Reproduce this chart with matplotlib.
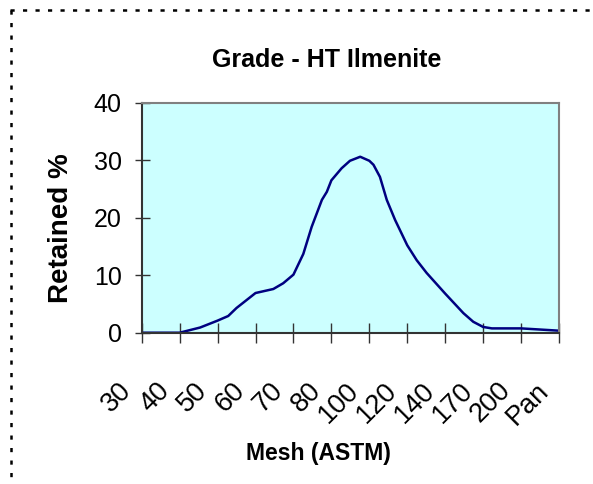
import matplotlib
matplotlib.use("Agg")
import matplotlib.pyplot as plt
import matplotlib.transforms as mtransforms
from matplotlib.lines import Line2D

plt.rcParams['font.family'] = ['Liberation Sans', 'DejaVu Sans']
plt.rcParams['lines.scale_dashes'] = False

# ---- data ----
mesh_labels = ['30', '40', '50', '60', '70', '80', '100', '120', '140', '170', '200', 'Pan']
# curve sample positions along the mesh axis (0 = first sieve, 11 = Pan)
curve_position = [0, 1, 1.54, 2.0, 2.28, 2.5, 3.0, 3.47, 3.73, 4.0, 4.26, 4.48, 4.75, 4.88,
                  5.0, 5.27, 5.49, 5.76, 6.0, 6.11, 6.28, 6.46, 6.68, 7.0, 7.25, 7.51,
                  8.0, 8.48, 8.74, 9.0, 9.23, 10.0, 11.0]
retained_pct = [0, 0, 0.9, 2.1, 2.9, 4.3, 6.9, 7.6, 8.6, 10.1, 13.7, 18.4, 23.1, 24.5,
                26.5, 28.6, 29.9, 30.6, 29.9, 29.2, 27.1, 23.1, 19.6, 15.2, 12.6, 10.4,
                6.8, 3.4, 1.9, 1.0, 0.75, 0.75, 0.35]
y_ticks = [0, 10, 20, 30, 40]

W, H = 593, 484
fig = plt.figure(figsize=(W / 100, H / 100), dpi=100)
ax = fig.add_axes([141.7 / W, 1 - 332.7 / H, (559 - 141.7) / W, (332.7 - 102.7) / H])
ax.set_facecolor('#CCFFFF')

ax.plot(curve_position, retained_pct, color='#000080', lw=1.8, solid_joinstyle='round')

ax.set_xlim(0, len(mesh_labels) - 1)
ax.set_ylim(0, 40)
ax.set_yticks(y_ticks)
ax.set_yticklabels([str(v) for v in y_ticks])
ax.set_xticks(range(len(mesh_labels)))
ax.set_xticklabels(mesh_labels)

for s in ['top', 'right']:
    ax.spines[s].set_color('#808080')
    ax.spines[s].set_linewidth(1.5)
for s in ['left', 'bottom']:
    ax.spines[s].set_color('#333333')
    ax.spines[s].set_linewidth(1.5)

ax.tick_params(axis='y', direction='inout', length=10.8, width=1, color='#333333',
               labelsize=18, pad=9)
ax.tick_params(axis='x', direction='inout', length=14.4, width=1, color='#333333',
               labelsize=19.5, pad=25)
offset = mtransforms.ScaledTranslation(-5 / 100, 0, fig.dpi_scale_trans)
for lab in ax.get_xticklabels():
    lab.set_rotation(45)
    lab.set_ha('right')
    lab.set_va('top')
    lab.set_transform(lab.get_transform() + offset)

fig.text(327 / W, 1 - 66.7 / H, 'Grade - HT Ilmenite', ha='center', va='baseline',
         fontsize=18, fontweight='bold')
fig.text(318 / W, 1 - 460 / H, 'Mesh (ASTM)', ha='center', va='baseline',
         fontsize=16.5, fontweight='bold')
fig.text(68 / W, 1 - 228 / H, 'Retained %', ha='center', va='baseline', rotation=90,
         rotation_mode='anchor', fontsize=20, fontweight='bold')

# dotted chart-area border (top and left)
fig.add_artist(Line2D([10 / W, 1], [1 - 10 / H, 1 - 10 / H], transform=fig.transFigure,
                      color='black', lw=1.8, linestyle=(0, (3, 6))))
fig.add_artist(Line2D([11 / W, 11 / W], [1 - 10 / H, 0], transform=fig.transFigure,
                      color='black', lw=1.8, linestyle=(0, (3, 6))))

fig.savefig('out.png', dpi=100)
